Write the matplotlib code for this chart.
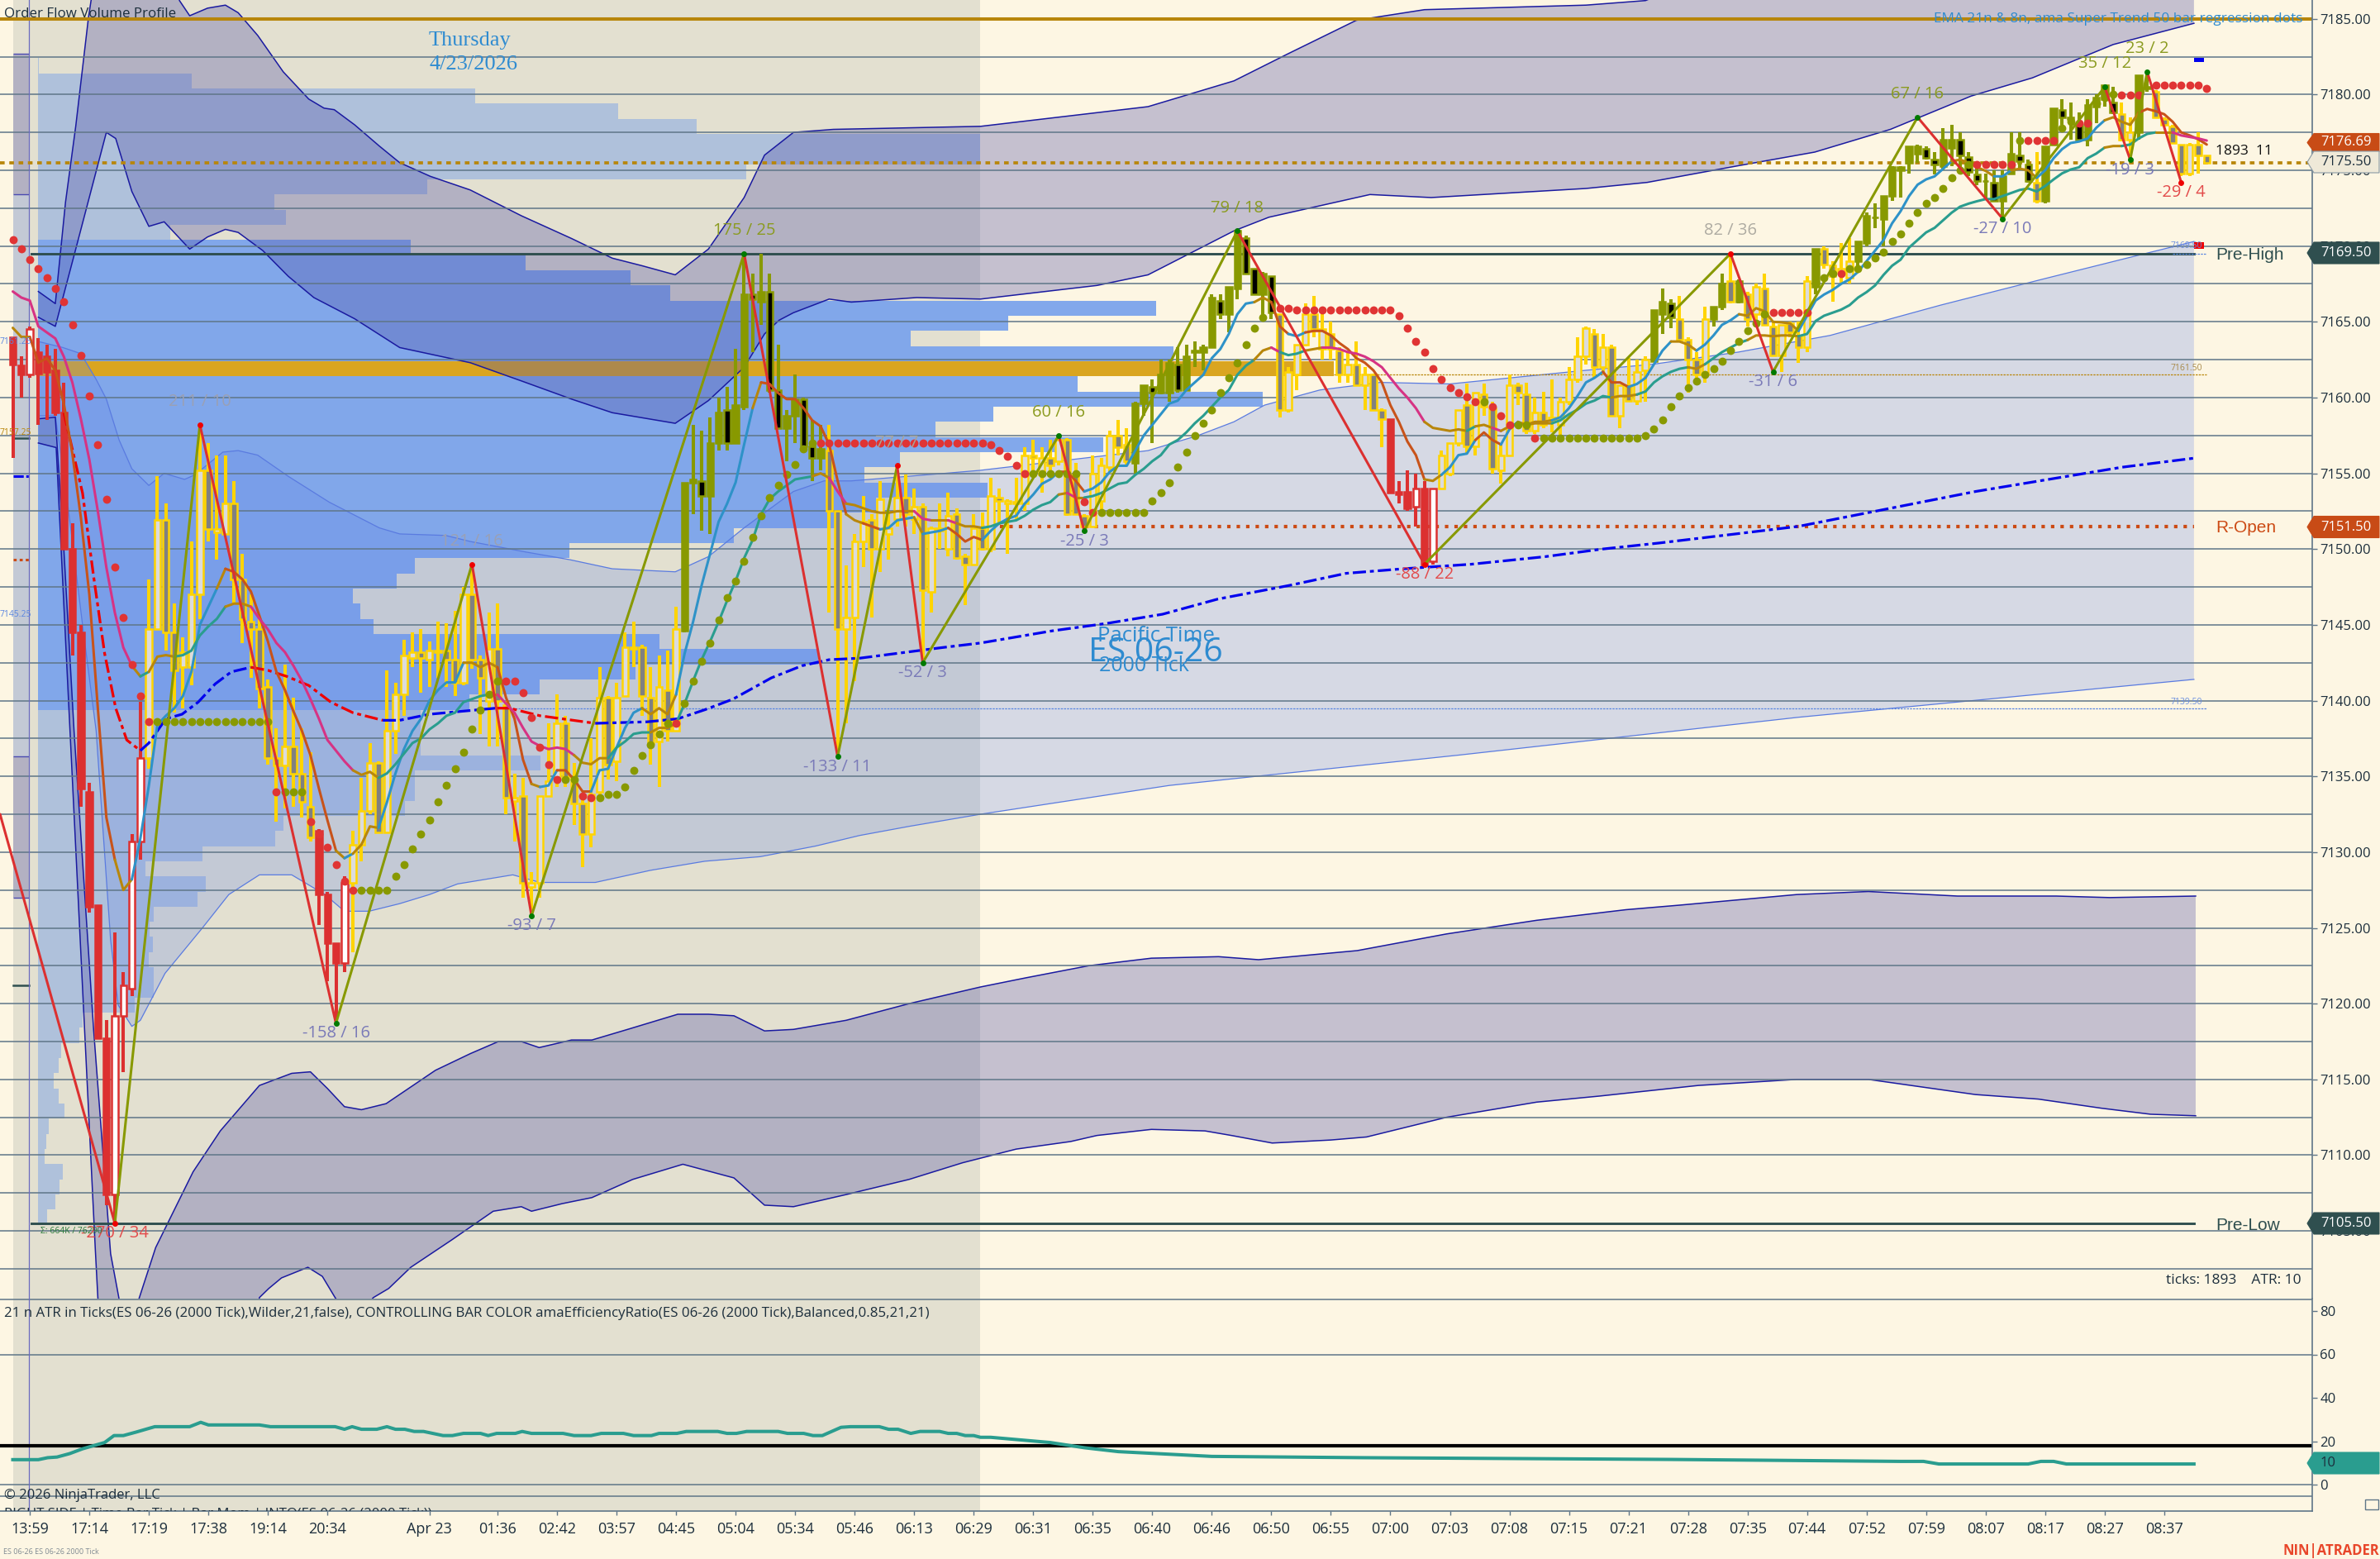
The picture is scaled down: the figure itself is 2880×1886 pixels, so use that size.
import numpy as np
import matplotlib
matplotlib.use("Agg")
import matplotlib.pyplot as plt
from matplotlib.patches import Polygon, Rectangle

# chart colours
BG = "#fdf6e3"
SHADE = "#e3e0d0"
GRID = "#5f7688"
SLATE = "#2f4f4f"
GOLD = "#b8860b"
TXTBLUE = "#2e8bd0"
DARK = "#1c2e3c"
FONT = "Open Sans"

# ------ candles ------
kinds = ("RRWRRRRRRRRRWWWWYYGGYYYGYYGGGGGGYGGGRRRWYYYGYYYYGY"
         "YGGYGGYGGYGYYYYGGGYYGYYYGGYGYOOKOOKOOKOKKOOKKOGGYY"
         "YGYYYGYGYGYGGYGYGYYYGYGYGGGYYYGGOOKOOKOOOOKOOKKOKG"
         "YYYGYGGYGYGGRRRWRWYYYGYGGYYGGYGYYYYYGYGYGYYOOKGGGY"
         "OOGOGYGGYGGYOGGYYOOKOOOOOKKOOKKKOKOOKKGOOKKKOOOKGYOKGGGGYGG")

opens = [7164.0, 7162.1, 7161.5, 7163.0, 7162.7, 7161.8, 7159.0, 7150.0, 7144.5, 7134.0,
         7126.5, 7117.7, 7107.4, 7119.2, 7121.0, 7130.7, 7136.2, 7144.7, 7151.9, 7144.5,
         7142.2, 7142.2, 7147.0, 7155.2, 7151.3, 7151.0, 7153.0, 7148.0, 7145.2, 7144.7,
         7140.9, 7136.2, 7135.7, 7137.0, 7135.2, 7133.0, 7131.4, 7127.2, 7124.0, 7122.7,
         7128.0, 7130.5, 7132.7, 7135.9, 7131.3, 7138.0, 7140.4, 7142.8, 7143.2, 7142.7,
         7143.3, 7143.3, 7142.7, 7141.2, 7147.0, 7142.7, 7140.0, 7143.4, 7139.7, 7133.6,
         7133.7, 7127.7, 7128.0, 7133.7, 7134.9, 7138.5, 7134.9, 7133.2, 7131.2, 7134.0,
         7140.2, 7136.0, 7140.3, 7143.5, 7143.5, 7140.2, 7137.3, 7140.7, 7138.0, 7144.6,
         7154.4, 7154.5, 7153.5, 7157.0, 7159.2, 7157.0, 7159.4, 7166.8, 7166.3, 7167.0,
         7160.5, 7158.0, 7158.8, 7159.9, 7156.8, 7156.0, 7156.5, 7152.5, 7144.7, 7145.5,
         7150.5, 7151.9, 7150.0, 7151.0, 7152.0, 7153.4, 7152.0, 7152.8, 7147.2, 7151.4,
         7150.0, 7152.3, 7149.5, 7149.0, 7151.4, 7150.0, 7153.4, 7153.2, 7153.1, 7153.0,
         7156.2, 7154.9, 7156.0, 7155.8, 7157.2, 7154.9, 7152.2, 7151.5, 7153.2, 7155.4,
         7157.5, 7156.9, 7155.7, 7159.6, 7160.7, 7160.3, 7160.3, 7162.2, 7160.5, 7163.0,
         7163.0, 7163.3, 7166.4, 7165.5, 7167.2, 7170.5, 7168.5, 7166.8, 7168.0, 7165.5,
         7159.2, 7161.5, 7163.5, 7165.5, 7163.2, 7164.2, 7163.1, 7161.5, 7162.2, 7160.8,
         7161.5, 7159.2, 7158.6, 7153.8, 7153.8, 7152.8, 7154.0, 7149.2, 7154.0, 7155.0,
         7157.0, 7159.5, 7156.8, 7160.2, 7159.3, 7155.2, 7156.2, 7160.8, 7160.2, 7157.8,
         7159.0, 7158.5, 7158.2, 7159.7, 7161.2, 7162.7, 7164.2, 7162.0, 7163.3, 7158.8,
         7160.8, 7159.8, 7161.8, 7162.4, 7165.5, 7166.2, 7165.2, 7163.8, 7162.5, 7161.5,
         7165.2, 7166.0, 7167.7, 7166.3, 7166.8, 7165.5, 7167.2, 7164.7, 7162.8, 7164.9,
         7164.1, 7163.3, 7167.3, 7169.8, 7168.7, 7168.3, 7167.9, 7169.0, 7170.2, 7171.9,
         7171.8, 7173.3, 7175.0, 7175.5, 7176.1, 7176.4, 7175.7, 7175.3, 7176.5, 7177.0,
         7175.9, 7174.7, 7174.3, 7174.2, 7173.0, 7174.8, 7176.0, 7175.4, 7174.2, 7173.0,
         7176.7, 7179.0, 7178.5, 7178.0, 7177.0, 7179.2, 7179.7, 7179.5, 7178.7, 7177.0,
         7177.5, 7180.5, 7180.2, 7178.4, 7177.9, 7176.7, 7174.8, 7176.7, 7176.0]
highs = [7164.0, 7162.7, 7164.7, 7163.9, 7163.5, 7163.2, 7161.0, 7151.7, 7145.0, 7134.6,
         7126.5, 7118.9, 7124.7, 7122.1, 7131.2, 7139.9, 7148.0, 7154.8, 7153.0, 7146.4,
         7144.2, 7150.5, 7158.2, 7157.0, 7156.2, 7156.2, 7154.5, 7149.7, 7147.0, 7145.4,
         7141.4, 7138.2, 7142.4, 7140.2, 7138.2, 7136.6, 7131.5, 7127.4, 7124.0, 7128.4,
         7131.4, 7134.9, 7137.2, 7136.0, 7142.0, 7141.2, 7144.0, 7144.5, 7144.7, 7143.9,
         7145.2, 7145.1, 7145.9, 7147.5, 7149.0, 7143.0, 7145.8, 7146.4, 7140.0, 7135.2,
         7134.9, 7128.7, 7133.7, 7138.5, 7140.4, 7139.0, 7135.9, 7133.8, 7137.5, 7142.2,
         7140.3, 7141.2, 7144.5, 7145.2, 7143.7, 7142.2, 7143.0, 7143.3, 7146.2, 7154.4,
         7158.2, 7157.8, 7158.7, 7160.0, 7160.7, 7163.2, 7169.5, 7168.2, 7169.5, 7168.2,
         7163.5, 7159.2, 7161.5, 7160.0, 7158.5, 7158.2, 7158.2, 7152.5, 7148.9, 7151.0,
         7153.5, 7152.3, 7154.5, 7152.5, 7155.0, 7154.9, 7154.0, 7153.0, 7151.5, 7153.0,
         7153.7, 7152.7, 7149.7, 7152.3, 7152.4, 7154.7, 7154.0, 7153.3, 7154.7, 7156.7,
         7157.2, 7156.7, 7157.2, 7157.5, 7157.3, 7155.7, 7152.3, 7156.2, 7156.0, 7157.8,
         7158.5, 7158.0, 7159.7, 7160.8, 7161.2, 7162.5, 7162.5, 7163.3, 7163.5, 7163.7,
         7163.5, 7166.8, 7166.8, 7167.3, 7171.0, 7170.7, 7168.5, 7168.3, 7168.0, 7165.5,
         7162.0, 7163.5, 7166.2, 7166.7, 7165.6, 7165.0, 7163.3, 7163.0, 7163.7, 7162.0,
         7161.6, 7159.3, 7158.6, 7154.5, 7155.2, 7155.0, 7154.5, 7154.0, 7156.5, 7157.0,
         7159.2, 7160.9, 7160.3, 7160.9, 7159.7, 7157.0, 7161.5, 7161.0, 7161.0, 7160.0,
         7160.4, 7161.2, 7160.0, 7162.0, 7164.0, 7164.7, 7164.5, 7164.2, 7163.5, 7160.8,
         7162.6, 7162.5, 7162.7, 7165.8, 7167.2, 7166.5, 7166.7, 7164.0, 7163.0, 7166.0,
         7166.0, 7168.2, 7169.5, 7167.8, 7167.0, 7167.5, 7168.2, 7165.0, 7164.8, 7165.0,
         7165.0, 7168.0, 7169.8, 7170.0, 7169.0, 7170.2, 7170.5, 7170.3, 7172.2, 7172.8,
         7173.3, 7175.3, 7175.3, 7176.6, 7176.7, 7176.6, 7176.2, 7177.8, 7178.0, 7177.5,
         7176.2, 7175.5, 7174.8, 7175.0, 7175.0, 7177.5, 7177.5, 7175.7, 7176.2, 7176.6,
         7179.1, 7179.7, 7179.5, 7178.8, 7179.7, 7180.0, 7180.6, 7180.5, 7179.5, 7178.5,
         7181.3, 7181.6, 7180.3, 7178.5, 7178.0, 7176.7, 7176.8, 7177.5, 7176.0]
lows = [7156.0, 7160.0, 7161.3, 7158.2, 7158.5, 7158.8, 7150.0, 7143.0, 7133.0, 7126.0,
        7117.7, 7106.7, 7105.5, 7115.5, 7120.5, 7129.5, 7135.5, 7144.7, 7143.3, 7139.2,
        7139.5, 7141.0, 7145.4, 7150.5, 7149.3, 7151.0, 7146.4, 7143.8, 7141.5, 7139.5,
        7135.8, 7132.0, 7132.9, 7133.0, 7132.3, 7130.7, 7125.2, 7121.5, 7118.7, 7122.1,
        7123.4, 7129.4, 7132.5, 7131.3, 7131.3, 7136.5, 7139.0, 7142.2, 7140.5, 7140.9,
        7141.5, 7140.9, 7140.3, 7141.0, 7142.1, 7137.8, 7137.0, 7137.0, 7132.5, 7130.7,
        7127.0, 7125.8, 7127.0, 7133.7, 7134.3, 7134.3, 7131.8, 7129.0, 7130.3, 7133.8,
        7134.8, 7134.7, 7140.3, 7142.2, 7139.0, 7135.8, 7134.3, 7137.3, 7138.0, 7144.5,
        7152.3, 7151.2, 7151.0, 7156.5, 7156.5, 7157.0, 7159.2, 7163.0, 7164.8, 7160.3,
        7157.9, 7155.8, 7157.0, 7156.5, 7154.5, 7155.2, 7145.8, 7136.5, 7138.5, 7141.3,
        7148.8, 7145.5, 7148.5, 7149.3, 7151.5, 7151.5, 7151.0, 7142.6, 7145.8, 7150.0,
        7149.5, 7149.3, 7146.3, 7148.9, 7149.9, 7149.8, 7151.6, 7149.7, 7152.0, 7152.5,
        7154.9, 7153.7, 7154.9, 7155.5, 7152.2, 7152.3, 7151.3, 7151.5, 7152.5, 7155.0,
        7156.2, 7155.6, 7155.0, 7158.8, 7157.0, 7160.2, 7159.7, 7160.3, 7160.5, 7162.0,
        7161.8, 7163.3, 7165.2, 7164.3, 7166.5, 7168.2, 7166.8, 7165.4, 7165.2, 7158.7,
        7159.0, 7160.5, 7163.4, 7164.0, 7162.5, 7162.5, 7161.0, 7161.0, 7160.8, 7159.2,
        7159.2, 7156.7, 7153.7, 7153.0, 7152.5, 7151.5, 7148.8, 7149.0, 7154.0, 7154.8,
        7156.8, 7156.3, 7156.2, 7158.8, 7155.0, 7154.3, 7156.2, 7159.5, 7157.6, 7157.6,
        7158.0, 7157.7, 7157.5, 7159.5, 7161.0, 7162.2, 7161.3, 7161.5, 7158.8, 7158.0,
        7159.8, 7159.5, 7159.7, 7162.4, 7164.2, 7164.6, 7163.7, 7160.3, 7161.0, 7161.0,
        7164.7, 7165.8, 7166.2, 7166.2, 7164.7, 7165.0, 7164.8, 7162.7, 7161.7, 7164.0,
        7162.3, 7163.0, 7166.8, 7168.5, 7166.3, 7167.6, 7167.5, 7168.4, 7170.0, 7171.2,
        7170.0, 7173.0, 7173.2, 7174.8, 7175.5, 7175.7, 7174.7, 7175.0, 7175.3, 7175.0,
        7174.6, 7174.0, 7173.1, 7172.9, 7171.9, 7174.8, 7175.0, 7174.2, 7172.8, 7172.8,
        7176.7, 7178.0, 7177.0, 7176.9, 7176.6, 7178.1, 7179.2, 7178.7, 7176.9, 7175.8,
        7177.0, 7180.2, 7178.5, 7177.9, 7176.8, 7174.6, 7174.6, 7174.8, 7175.5]
closes = [7162.2, 7161.5, 7164.5, 7161.6, 7161.7, 7159.0, 7150.0, 7144.5, 7134.2, 7126.4,
          7117.7, 7107.4, 7119.2, 7121.2, 7130.7, 7136.2, 7144.7, 7151.9, 7144.5, 7142.0,
          7143.2, 7147.0, 7155.2, 7151.3, 7151.1, 7153.0, 7148.0, 7145.4, 7144.7, 7140.8,
          7136.2, 7135.7, 7137.0, 7135.2, 7133.3, 7131.0, 7127.2, 7124.0, 7122.7, 7128.0,
          7130.5, 7132.7, 7135.9, 7131.3, 7138.0, 7140.4, 7143.0, 7143.2, 7142.8, 7143.3,
          7143.2, 7142.7, 7141.2, 7147.0, 7142.7, 7141.5, 7143.4, 7140.0, 7133.6, 7133.4,
          7128.0, 7128.0, 7133.7, 7134.7, 7138.5, 7134.9, 7133.2, 7131.2, 7133.8, 7140.2,
          7135.8, 7140.2, 7143.5, 7143.4, 7140.3, 7137.2, 7140.9, 7138.0, 7144.7, 7154.4,
          7154.6, 7153.5, 7157.0, 7159.0, 7157.0, 7159.5, 7166.8, 7166.5, 7167.0, 7160.5,
          7158.0, 7158.8, 7159.9, 7156.8, 7156.0, 7156.6, 7152.5, 7144.7, 7145.5, 7150.5,
          7151.8, 7150.0, 7153.3, 7151.4, 7153.4, 7152.3, 7152.8, 7147.3, 7151.4, 7151.2,
          7152.2, 7149.4, 7149.0, 7151.4, 7150.0, 7153.5, 7153.2, 7153.0, 7153.0, 7156.2,
          7156.0, 7156.0, 7155.5, 7157.2, 7152.3, 7152.3, 7151.5, 7155.0, 7155.5, 7157.5,
          7156.7, 7155.8, 7159.6, 7160.8, 7160.3, 7161.5, 7162.3, 7160.5, 7162.7, 7163.1,
          7163.3, 7166.6, 7165.5, 7167.3, 7171.0, 7168.2, 7166.8, 7168.2, 7165.6, 7159.2,
          7161.7, 7163.5, 7165.5, 7164.5, 7164.5, 7163.2, 7161.5, 7162.2, 7160.8, 7161.5,
          7159.2, 7158.6, 7153.7, 7153.6, 7152.7, 7154.0, 7148.9, 7154.0, 7156.2, 7157.0,
          7159.2, 7156.8, 7160.3, 7159.4, 7155.3, 7156.2, 7160.8, 7160.3, 7157.8, 7159.0,
          7158.2, 7158.7, 7159.7, 7161.2, 7162.7, 7164.6, 7162.0, 7163.3, 7158.8, 7160.8,
          7159.8, 7161.7, 7162.5, 7165.8, 7166.3, 7165.3, 7163.8, 7162.5, 7161.5, 7165.2,
          7166.0, 7167.5, 7166.3, 7167.7, 7165.2, 7167.3, 7164.8, 7162.8, 7164.8, 7164.3,
          7163.3, 7167.7, 7169.8, 7168.8, 7168.0, 7168.5, 7169.0, 7170.3, 7172.0, 7171.9,
          7173.3, 7175.2, 7175.2, 7176.6, 7176.6, 7175.8, 7175.4, 7177.0, 7177.0, 7176.0,
          7174.9, 7174.3, 7174.3, 7173.0, 7174.6, 7176.1, 7175.6, 7174.3, 7173.0, 7176.6,
          7179.1, 7178.5, 7178.4, 7177.0, 7179.3, 7179.8, 7180.6, 7178.8, 7177.0, 7177.5,
          7181.3, 7180.4, 7178.5, 7178.0, 7176.8, 7174.8, 7176.7, 7176.0, 7175.5]

# ------ moving averages, one value per bar ------
fast_line = [7164.6, 7164.0, 7164.0, 7162.3, 7162.6, 7161.8, 7159.6, 7156.3, 7152.1, 7147.0,
             7139.5, 7132.3, 7129.5, 7127.5, 7128.2, 7130.9, 7134.4, 7138.4, 7139.0, 7139.5,
             7140.3, 7141.9, 7145.0, 7146.2, 7147.4, 7148.7, 7148.5, 7148.0, 7147.2, 7145.6,
             7143.9, 7141.9, 7140.7, 7139.3, 7138.0, 7136.4, 7134.2, 7132.1, 7130.1, 7129.6,
             7129.9, 7130.5, 7131.7, 7131.6, 7133.3, 7135.2, 7136.8, 7138.0, 7138.8, 7140.0,
             7140.7, 7141.2, 7141.2, 7142.5, 7142.5, 7142.2, 7142.5, 7142.2, 7140.2, 7138.8,
             7136.1, 7134.5, 7134.3, 7134.4, 7135.4, 7135.4, 7134.8, 7134.0, 7134.0, 7135.4,
             7135.5, 7136.9, 7138.2, 7139.2, 7139.5, 7139.1, 7139.5, 7139.1, 7140.4, 7143.1,
             7145.2, 7147.6, 7149.7, 7151.8, 7153.0, 7154.4, 7156.9, 7159.3, 7161.0, 7160.9,
             7160.3, 7159.9, 7159.9, 7159.3, 7158.5, 7158.1, 7156.9, 7154.5, 7152.3, 7151.9,
             7151.7, 7151.5, 7151.3, 7151.4, 7151.9, 7152.0, 7152.1, 7151.0, 7151.1, 7151.2,
             7151.4, 7151.0, 7150.5, 7150.8, 7150.6, 7151.2, 7151.7, 7152.0, 7152.2, 7153.0,
             7153.6, 7154.3, 7154.6, 7155.1, 7155.1, 7154.5, 7153.8, 7154.0, 7154.4, 7155.1,
             7155.5, 7155.5, 7156.5, 7157.5, 7158.2, 7158.9, 7159.6, 7159.8, 7160.5, 7161.0,
             7161.5, 7162.6, 7163.2, 7164.2, 7165.5, 7166.2, 7166.3, 7166.6, 7166.3, 7164.7,
             7164.2, 7164.05, 7164.3, 7164.4, 7164.4, 7164.1, 7163.6, 7163.2, 7162.6, 7162.3,
             7161.8, 7161.0, 7159.5, 7158.4, 7157.1, 7156.2, 7154.6, 7154.5, 7154.9, 7155.4,
             7156.2, 7156.3, 7157.2, 7157.7, 7157.2, 7156.9, 7157.9, 7158.4, 7158.2, 7158.4,
             7158.4, 7158.5, 7158.7, 7159.3, 7160.1, 7161.0, 7161.3, 7161.7, 7161.0, 7161.0,
             7160.7, 7160.9, 7161.3, 7162.2, 7163.1, 7163.7, 7163.7, 7163.5, 7163.1, 7163.5,
             7164.1, 7164.8, 7165.1, 7165.5, 7165.4, 7165.9, 7165.7, 7165.0, 7164.96, 7164.9,
             7164.4, 7165.4, 7166.4, 7166.8, 7167.1, 7167.5, 7167.8, 7168.3, 7169.0, 7169.7,
             7170.4, 7171.5, 7172.3, 7173.3, 7174.05, 7174.4, 7174.6, 7175.1, 7175.6, 7175.7,
             7175.5, 7175.2, 7174.96, 7174.6, 7174.6, 7175.0, 7175.1, 7175.0, 7174.5, 7175.0,
             7175.8, 7176.4, 7176.8, 7176.9, 7177.1, 7177.8, 7178.3, 7178.5, 7178.2, 7178.0,
             7178.8, 7179.05, 7178.9, 7178.7, 7178.2, 7177.5, 7177.3, 7177.05, 7176.7]
slow_line = [7167.0, 7166.6, 7166.4, 7164.7, 7164.3, 7163.9, 7162.7, 7161.0, 7158.6, 7155.9,
             7152.5, 7148.8, 7145.8, 7143.5, 7142.3, 7141.6, 7141.9, 7142.9, 7143.0, 7142.9,
             7143.0, 7143.3, 7144.3, 7144.9, 7145.4, 7146.2, 7146.4, 7146.4, 7146.2, 7145.4,
             7144.7, 7143.8, 7143.2, 7142.3, 7141.3, 7140.1, 7138.8, 7137.4, 7136.7, 7136.0,
             7135.4, 7135.1, 7135.3, 7134.9, 7135.2, 7135.8, 7136.5, 7137.2, 7137.5, 7138.1,
             7138.5, 7139.0, 7139.2, 7139.9, 7140.1, 7140.3, 7140.4, 7140.4, 7139.8, 7139.2,
             7138.2, 7137.3, 7137.0, 7136.8, 7136.9, 7136.8, 7136.4, 7135.9, 7135.8, 7136.2,
             7136.2, 7136.9, 7137.3, 7137.8, 7137.9, 7137.9, 7138.2, 7138.2, 7138.5, 7139.8,
             7141.3, 7142.7, 7143.9, 7145.2, 7146.6, 7147.9, 7149.4, 7150.6, 7152.3, 7153.3,
             7153.8, 7154.2, 7154.6, 7154.7, 7154.8, 7155.0, 7154.7, 7153.8, 7153.0, 7152.9,
             7152.7, 7152.5, 7152.4, 7152.4, 7152.5, 7152.5, 7152.5, 7152.0, 7151.9, 7151.9,
             7151.9, 7151.7, 7151.5, 7151.5, 7151.4, 7151.5, 7151.7, 7151.8, 7151.9, 7152.2,
             7152.6, 7152.9, 7153.1, 7153.6, 7153.7, 7153.4, 7153.4, 7153.5, 7153.7, 7154.0,
             7154.3, 7154.4, 7154.9, 7155.3, 7155.8, 7156.2, 7156.9, 7157.2, 7157.7, 7158.3,
             7158.8, 7159.4, 7160.0, 7160.5, 7161.5, 7162.1, 7162.5, 7163.1, 7163.3, 7163.0,
             7162.8, 7162.9, 7163.1, 7163.2, 7163.3, 7163.3, 7163.2, 7163.0, 7162.9, 7162.7,
             7162.4, 7162.0, 7161.3, 7160.6, 7160.0, 7159.3, 7158.4, 7158.0, 7157.9, 7157.8,
             7157.9, 7157.8, 7158.1, 7158.2, 7158.0, 7157.8, 7158.1, 7158.3, 7158.2, 7158.3,
             7158.3, 7158.3, 7158.5, 7158.9, 7159.2, 7159.6, 7159.8, 7160.1, 7160.0, 7160.1,
             7160.1, 7160.2, 7160.4, 7161.0, 7161.4, 7161.7, 7161.9, 7162.0, 7161.9, 7162.2,
             7162.6, 7163.0, 7163.3, 7163.6, 7163.8, 7164.1, 7164.1, 7164.05, 7164.1, 7164.1,
             7164.05, 7164.2, 7165.05, 7165.4, 7165.6, 7165.8, 7166.1, 7166.6, 7166.96, 7167.4,
             7168.1, 7168.7, 7169.1, 7169.9, 7170.4, 7170.9, 7171.2, 7171.7, 7172.2, 7172.6,
             7172.8, 7172.96, 7173.1, 7173.1, 7173.3, 7173.5, 7173.7, 7173.8, 7173.6, 7173.96,
             7174.4, 7174.8, 7175.05, 7175.2, 7175.8, 7176.1, 7176.5, 7176.6, 7176.6, 7176.7,
             7177.1, 7177.4, 7177.5, 7177.5, 7177.5, 7177.3, 7177.2, 7177.1, 7176.96]
# colour changes of the lines: (first bar, colour)
fast_runs = [(0, "a"), (2, "o"), (12, "a"), (14, "b"), (24, "a"), (25, "o"), (38, "a"), (39, "b"), (40, "a"),
             (43, "b"), (53, "a"), (57, "o"), (61, "a"), (62, "b"), (64, "o"), (68, "b"), (74, "a"), (78, "b"),
             (87, "a"), (88, "o"), (98, "a"), (100, "o"), (102, "b"), (106, "a"), (107, "b"), (110, "o"),
             (114, "b"), (123, "o"), (126, "b"), (146, "a"), (148, "o"), (150, "b"), (152, "o"), (166, "a"),
             (168, "b"), (172, "o"), (175, "b"), (177, "a"), (181, "b"), (187, "o"), (190, "b"), (195, "a"),
             (198, "b"), (203, "a"), (210, "b"), (228, "a"), (233, "b"), (235, "a"), (238, "b"), (246, "a"),
             (250, "o")]
slow_runs = [(0, "p"), (14, "a"), (15, "t"), (16, "a"), (19, "t"), (25, "a"), (28, "p"), (40, "a"), (43, "t"),
             (56, "a"), (57, "p"), (66, "a"), (70, "t"), (75, "a"), (78, "t"), (94, "a"), (96, "p"), (98, "a"),
             (106, "p"), (108, "a"), (110, "p"), (111, "a"), (114, "t"), (123, "a"), (124, "p"), (125, "a"),
             (126, "t"), (146, "a"), (148, "p"), (149, "t"), (152, "a"), (154, "p"), (166, "a"), (171, "t"),
             (172, "a"), (174, "p"), (175, "a"), (176, "t"), (177, "a"), (181, "t"), (188, "a"), (191, "t"),
             (197, "a"), (199, "t"), (204, "a"), (210, "t"), (246, "a"), (248, "t"), (252, "a"), (254, "p")]
line_colors = {"a": "#b8860b", "o": "#c8531a", "b": "#2e92c8", "t": "#2a9d8f", "p": "#d63384"}

# ------ super trend dots ------
dot_prices = [7170.4, 7169.8, 7169.1, 7168.5, 7167.9, 7167.2, 7166.3, 7164.8, 7162.8, 7160.1,
              7156.9, 7153.3, 7148.8, 7145.5, 7142.4, 7140.3, 7138.6] + [7138.6] * 14 + [
              7134.0, 7134.0, 7134.0, 7134.0, 7132.0, 7131.2, 7130.3, 7129.2, 7128.1, 7127.5,
              7127.5, 7127.5, 7127.5, 7127.5, 7128.4, 7129.2, 7130.2, 7131.2, 7132.1, 7133.3,
              7134.4, 7135.5, 7136.6, 7138.1, 7139.4, 7140.4, 7141.3, 7141.3, 7141.3, 7140.5,
              7138.9, 7136.9, 7135.8, 7134.8, 7134.8, 7134.8, 7133.7, 7133.6, 7133.6, 7133.8,
              7133.8, 7134.3, 7135.4, 7136.4, 7137.1, 7137.8, 7138.5, 7138.5, 7139.8, 7141.3,
              7142.6, 7143.8, 7145.3, 7146.8, 7147.9, 7149.2, 7150.8, 7152.2, 7153.4, 7154.2,
              7154.9, 7155.6, 7156.6, 7157.0] + [7157.0] * 20 + [
              7156.9, 7156.5, 7156.1, 7155.5, 7155.0] + [7155.0] * 6 + [7153.1, 7152.4] + [7152.4] * 6 + [
              7153.2, 7153.7, 7154.4, 7155.4, 7156.4, 7157.5, 7158.3, 7159.2, 7160.3, 7161.3,
              7162.3, 7163.5, 7164.6, 7165.3, np.nan, 7165.9, 7165.9] + [7165.8] * 12 + [
              7165.4, 7164.6, 7163.7, 7163.0, 7161.9, 7161.2, 7160.65, 7160.3, 7160.05, 7159.7,
              7159.7, 7159.4, 7158.8, 7158.2, 7158.2, 7158.2, 7157.3] + [7157.3] * 12 + [
              7157.5, 7157.9, 7158.5, 7159.4, 7160.1, 7160.65, 7161.1, 7161.5, 7161.9, 7162.4,
              7163.1, 7163.7, 7164.4, 7164.9, 7165.5] + [7165.6] * 5 + [
              7167.5, 7167.9, 7168.2, 7168.2, 7168.5, 7168.5, 7168.8, 7169.2, 7169.6, 7170.3,
              7170.8, 7171.5, 7172.2, 7172.8, 7173.2, 7173.8, 7174.5, 7175.0, 7175.4] + [7175.4] * 5 + [
              7176.96] * 5 + [7177.8, 7178.2, 7178.1, 7178.1, 7179.4, 7179.8, 7180.0, 7179.96, 7179.96, 7179.96,
              np.nan] + [7180.6] * 6 + [7180.4]
dot_runs = [(0, "r"), (17, "g"), (31, "r"), (32, "g"), (35, "r"), (41, "g"), (58, "r"), (65, "g"), (67, "r"),
            (69, "g"), (78, "r"), (79, "g"), (95, "r"), (120, "g"), (126, "r"), (128, "g"), (149, "r"),
            (173, "g"), (174, "r"), (177, "g"), (179, "r"), (180, "g"), (207, "r"), (212, "g"), (215, "r"),
            (216, "g"), (231, "r"), (236, "g"), (237, "r"), (241, "g"), (243, "r"), (245, "g"), (248, "r")]

# ------ swing zigzag ------
swing_bars = [-1.5, 12, 22, 38, 54, 61, 86, 97, 104, 107, 123, 126, 144, 166, 202, 207, 224, 234, 246, 249, 251, 255]
swing_prices = [7132.5, 7105.5, 7158.2, 7118.7, 7149.0, 7125.8, 7169.5, 7136.3, 7155.5, 7142.5, 7157.5, 7151.2,
                7171.0, 7149.0, 7169.5, 7161.7, 7178.5, 7171.8, 7180.5, 7175.7, 7181.5, 7174.2]
swing_labels = ["", "-270 / 34", "211 / 10", "-158 / 16", "121 / 16", "-93 / 7", "175 / 25", "-133 / 11", "77 / 7",
                "-52 / 3", "60 / 16", "-25 / 3", "79 / 18", "-88 / 22", "82 / 36", "-31 / 6", "67 / 16", "-27 / 10",
                "35 / 12", "-19 / 3", "23 / 2", "-29 / 4"]
swing_label_colors = ["", "#e34b4b", "#9aa0b4", "#7a7ab8", "#9aa0b4", "#7a7ab8", "#8b9b20", "#7a7ab8", "#a8a498",
                      "#7a7ab8", "#8b9b20", "#7a7ab8", "#8b9b20", "#e34b4b", "#aeaba2", "#7a7ab8", "#8b9b20",
                      "#7a7ab8", "#8b9b20", "#7a7ab8", "#8b9b20", "#e34b4b"]
swing_dot_colors = ["", "r", "r", "g", "r", "g", "g", "g", "r", "g", "g", "g", "g", "r", "r", "g", "g", "g", "g", "g",
                    "g", "r"]

# ------ regression bands, vertices ------
top_upper_x = [3, 5, 6.2, 7.4, 8.9, 9.2, 14, 19.6, 20.8, 22.9, 25, 26.5, 28.8, 31.8, 34.8, 36.6, 37.8, 40.2, 43.1,
               45.5, 49.1, 53.8, 59.8, 65.7, 70.5, 74, 77.9, 81.8, 86, 88.4, 91.8, 96.5, 113.8, 133.5, 143.6, 150,
               158, 166, 185, 192, 200, 256.5]
top_upper_y = [7167.0, 7166.2, 7172.9, 7177.9, 7185.1, 7186.2, 7198, 7186.2, 7185.2, 7185.7, 7185.9, 7185.4, 7183.9,
               7181.5, 7179.7, 7179.1, 7179, 7178, 7176.6, 7175.5, 7174.6, 7173.7, 7172, 7170.5, 7169.2, 7168.7,
               7168.1, 7169.8, 7173.2, 7176, 7177.5, 7177.7, 7177.9, 7179.2, 7180.9, 7182.7, 7184.9, 7185.6, 7185.9,
               7186.2, 7188, 7192]
top_lower_x = [3, 5, 7.4, 11, 12.1, 14, 16, 17.8, 20.8, 22.9, 25, 26.5, 29.4, 32.4, 35.4, 40.2, 45.5, 53.8, 59.8,
               65.7, 70.5, 77.9, 81.8, 86, 88.4, 90.1, 91.8, 96, 98.6, 106.3, 113.8, 127.5, 133.5, 143.6, 147.7,
               159.6, 166.8, 185, 192.2, 202.9, 211.9, 220.8, 230.3, 237.5, 247, 256.5]
top_lower_y = [7165.3, 7164.7, 7169.8, 7177.5, 7177.1, 7173.6, 7171.3, 7171.6, 7169.8, 7170.6, 7171.1, 7170.9, 7169.7,
               7168, 7166.6, 7165.2, 7163.3, 7162.3, 7161.1, 7159.9, 7159, 7158.3, 7159.8, 7162, 7164.2, 7165.1,
               7165.6, 7166.5, 7166.3, 7166.6, 7166.5, 7167.4, 7168.1, 7171, 7171.9, 7173.4, 7173.2, 7173.8, 7174.2,
               7175.3, 7176.2, 7177.7, 7179.9, 7181.1, 7183.3, 7184.7]
mid_upper_x = [3, 5.9, 8, 9.8, 11, 12.5, 14, 16, 17.8, 20.2, 21.4, 24.7, 26.5, 28.8, 32.4, 37.2, 43.1, 45.5, 50.9,
               53.8, 60.4, 65.5, 70.5, 77.9, 81.8, 86, 91.8, 95.4, 98.6, 109.6, 113.8, 133.5, 139.4, 143.6, 147.2,
               153.7, 160.8, 169, 185, 192.9, 202.9, 213.7, 226.7, 238.6, 249.3, 256.5]
mid_upper_y = [7163.7, 7163.3, 7162.9, 7161.2, 7159.9, 7157.2, 7155.3, 7154.2, 7155, 7154.6, 7154.9, 7156.4, 7156.5,
               7156.2, 7154.8, 7153.1, 7151.4, 7151, 7150.9, 7150.5, 7149.8, 7149.3, 7148.7, 7148.5, 7149.5, 7151.4,
               7153.8, 7154.5, 7154.5, 7155, 7155.2, 7156.5, 7157.5, 7158.4, 7159.5, 7160.5, 7161, 7160.9, 7161.8,
               7162.2, 7163, 7164.1, 7166.1, 7167.8, 7169.3, 7170.3]
mid_lower_x = [3, 5, 6.3, 8.2, 9.8, 11.5, 12.4, 14, 15, 17.9, 22.3, 25.4, 29, 32.8, 36.7, 39, 41.9, 45.5, 49, 52.3,
               58.8, 62, 68.5, 75, 81.4, 87.9, 94.4, 99.6, 105.4, 113.8, 136, 170, 210, 256.5]
mid_lower_y = [7158.8, 7158.8, 7153.7, 7145, 7138, 7124.2, 7119.9, 7118.5, 7118.9, 7122, 7125, 7127.2, 7128.5, 7128.5,
               7127.2, 7126.1, 7126.1, 7126.6, 7127.2, 7127.9, 7128.5, 7128, 7128, 7128.8, 7129.4, 7129.7, 7130.4,
               7131.1, 7131.7, 7132.5, 7134.4, 7136.4, 7138.9, 7141.4]
low_upper_x = [3, 5, 6, 7.2, 9.5, 11.5, 12.8, 13.5, 14.3, 16.8, 21.2, 24.4, 29, 32.8, 35, 37, 39, 41, 43.9, 49.7,
               53.8, 57.1, 59.8, 61.9, 65.7, 68.1, 72.3, 78.2, 81.8, 84.8, 88.4, 91.8, 98, 105.4, 113.8, 119.1,
               126.5, 133.9, 141.8, 146.5, 158.1, 168.6, 179.2, 189.7, 196, 209.8, 218.2, 228.7, 240.3, 246.6, 256.7]
low_upper_y = [7158.6, 7158.7, 7150, 7138, 7118.3, 7103.5, 7099.6, 7096, 7099.6, 7103.9, 7108.9, 7111.6, 7114.6, 7115.4,
               7115.5, 7114.4, 7113.2, 7113, 7113.4, 7115.6, 7116.7, 7117.5, 7117.5, 7117.1, 7117.6, 7117.6, 7118.3,
               7119.3, 7119.3, 7119.2, 7118.2, 7118.3, 7118.9, 7120, 7121.1, 7121.7, 7122.5, 7123, 7123.1, 7122.9,
               7123.5, 7124.6, 7125.5, 7126.2, 7126.5, 7127.2, 7127.4, 7127.1, 7127.1, 7127, 7127.1]
low_lower_x = [3, 5.1, 9.7, 10, 12, 26, 29, 30.1, 31.6, 34.7, 36.4, 37.9, 40, 42.4, 44.2, 46.8, 51.6, 56.5, 59.8, 61,
               64.6, 68.1, 72.9, 78.8, 84.8, 88.4, 91.8, 98, 105.4, 111.7, 118, 124.4, 127.5, 133.9, 140.2, 143.3,
               148.1, 155, 159.2, 168.6, 179.2, 186.6, 198.2, 209.8, 218.2, 224.5, 230.8, 238.2, 245.6, 251.4, 256.7]
low_lower_y = [7157, 7156.7, 7103.8, 7100.6, 7090, 7090, 7100.6, 7101.2, 7101.9, 7102.6, 7102, 7100.6, 7099, 7100.6,
               7101.2, 7102.6, 7104.4, 7106.3, 7106.6, 7106.3, 7106.8, 7107.2, 7108.4, 7109.4, 7108.5, 7106.7, 7106.6,
               7107.4, 7108.4, 7109.5, 7110.4, 7110.9, 7111.3, 7111.7, 7111.6, 7111.3, 7110.8, 7111, 7111.2, 7112.5,
               7113.5, 7113.9, 7114.6, 7115, 7115, 7114.5, 7114, 7113.7, 7113.1, 7112.7, 7112.6]

# regression mid line, red where it falls
reg_x = [6, 8.2, 9.5, 10.8, 12.1, 13.4, 15, 16, 18, 19.9, 21.8, 23.8, 25.7, 28, 30, 32.2, 34.8, 37.4, 40, 43.5, 45.5,
         49, 56.8, 58.4, 62, 68.5, 74.6, 78.2, 81.4, 84.7, 89.2, 92.8, 96, 99.6, 109.3, 113.8, 122.2, 128.7, 135.2,
         141.7, 150.1, 156.8, 163.5, 171.5, 180.2, 186.9, 193.6, 202.6, 210, 230.8, 248, 256.5]
reg_y = [7159, 7153.7, 7148.2, 7143.1, 7139.5, 7137.4, 7136.7, 7137.2, 7138.8, 7139.1, 7139.9, 7141.1, 7141.9, 7142.2,
         7142, 7141.6, 7141, 7139.9, 7139.2, 7138.7, 7138.7, 7139.1, 7139.5, 7139.5, 7139, 7138.5, 7138.6, 7138.8,
         7139.4, 7140.1, 7141.5, 7142.3, 7142.7, 7142.8, 7143.5, 7143.8, 7144.6, 7145.1, 7145.7, 7146.7, 7147.6,
         7148.4, 7148.7, 7149, 7149.5, 7150, 7150.4, 7151, 7151.5, 7153.8, 7155.4, 7156]
reg_runs = [(0, "#ee0000"), (6, "#0000ee"), (13, "#ee0000"), (19, "#0000ee"), (22, "#ee0000"), (25, "#0000ee")]

# ------ order flow volume profile (row top price and volume) ------
profile_tops = [7182.4 - k for k in range(77)]
profile_volume = [47, 232, 575, 748, 843, 1186, 1186, 903, 517, 332, 346, 206,
                  497, 636, 763, 811, 1399, 1220, 1102, 1420, 1614, 1304, 1528, 1202, 1132, 1335, 1089, 1046, 1195,
                  1060, 1018, 888, 689, 502, 480, 427, 436, 452, 798, 990, 769, 653, 568,
                  509, 509, 509, 654, 502, 502, 490, 343, 333, 245, 176, 249, 239, 186, 181, 185, 180, 186, 186, 163,
                  100, 96, 74, 71, 65, 71, 78, 59, 56, 54, 76, 72, 67, 57]

# ------ ATR panel ------
atr_x = [0, 3, 4.1, 5.2, 6.7, 8.2, 10.8, 11.9, 13, 14.5, 16.7, 20.8, 22.1, 23, 29, 30.3, 37.9, 39, 39.9, 41, 42.8, 44,
         45, 46.1, 47.2, 48.3, 50.6, 51.7, 53, 55, 55.9, 56.9, 59.1, 59.9, 61, 64.7, 66, 68, 69.2, 71.8, 73, 75.1, 76,
         78.1, 79.2, 82.9, 84, 85.1, 86.3, 90, 91.1, 93, 94.1, 95.2, 97.4, 98.5, 101.9, 103, 104.1, 105.6, 106.7, 109,
         110, 111, 112, 113, 113.8, 115, 122, 126, 130, 141, 159, 177, 194.8, 222, 224.7, 226.5, 237, 238.5, 240,
         241.5, 256.5]
atr_y = [11.5, 11.5, 12.4, 12.7, 14.3, 16.5, 19.4, 22.6, 22.6, 24.2, 26.7, 26.7, 28.7, 27.5, 27.5, 26.7, 26.7, 25.5,
         26.7, 25.5, 25.5, 26.7, 25.5, 25.5, 24.5, 24.5, 22.6, 22.6, 23.6, 23.6, 22.6, 23.6, 23.6, 24.5, 23.6, 23.6,
         22.6, 22.6, 23.6, 23.6, 22.6, 22.6, 23.6, 23.6, 24.5, 24.5, 23.6, 23.6, 24.5, 24.5, 23.6, 23.6, 22.6, 22.6,
         26.4, 26.7, 26.7, 25.5, 25.5, 23.6, 24.5, 24.5, 23.6, 23.6, 22.6, 22.6, 21.8, 21.8, 19.4, 17, 15.2, 13, 12.4,
         12, 11.6, 10.7, 10.7, 9.5, 9.5, 10.7, 10.7, 9.5, 9.5]
atr_level = 18

# ------ axis labels ------
tick_bars = [2, 9, 16, 23, 30, 37, 49, 57, 64, 71, 78, 85, 92, 99, 106, 113] + list(range(120, 254, 7))
tick_labels = ["13:59", "17:14", "17:19", "17:38", "19:14", "20:34", "Apr 23", "01:36", "02:42", "03:57", "04:45",
               "05:04", "05:34", "05:46", "06:13", "06:29", "06:31", "06:35", "06:40", "06:46", "06:50", "06:55",
               "07:00", "07:03", "07:08", "07:15", "07:21", "07:28", "07:35", "07:44", "07:52", "07:59", "08:07",
               "08:17", "08:27", "08:37"]
price_ticks = [7105, 7110, 7115, 7120, 7125, 7130, 7135, 7140, 7145, 7150, 7155, 7160, 7165, 7170, 7175, 7180, 7185]


# layout of the window in pixels
W, H = 2880, 1886
RIGHT = 2797.5
MAIN_BOTTOM = 1571
LOW_BOTTOM = 1828
SESSION_END = 113.75
END_BAR = 256.5


def bar_of(px):
    return (px - 15.5) / 10.29


def price_of(py):
    return 7185 - (py - 22.7) / 18.33


def atr_of(py):
    return (1796 - py) * 20 / 52.5


def run_colors(runs, n):
    out = [None] * n
    for k, (start, c) in enumerate(runs):
        end = runs[k + 1][0] if k + 1 < len(runs) else n
        for j in range(start, end):
            out[j] = c
    return out


def draw_runs(axis, xs, ys, runs, colors=None, **kw):
    for k, (start, c) in enumerate(runs):
        end = runs[k + 1][0] if k + 1 < len(runs) else len(xs) - 1
        axis.plot(xs[start:end + 1], ys[start:end + 1], color=colors[c] if colors else c, **kw)


plt.rcParams["font.family"] = [FONT, "DejaVu Sans"]
fig = plt.figure(figsize=(W / 100, H / 100), dpi=100, facecolor=BG)

# main price panel, with the profile on a twin x axis under it
ax = fig.add_axes([0, 1 - MAIN_BOTTOM / H, RIGHT / W, MAIN_BOTTOM / H])
ax_vp = ax.twiny()
ax_vp.set_zorder(1)
ax.set_zorder(2)
ax.patch.set_visible(False)
ax_vp.patch.set_facecolor(BG)
ax.set_xlim(bar_of(0), bar_of(RIGHT))
ax.set_ylim(price_of(MAIN_BOTTOM), price_of(0))
ax_vp.set_xlim(0, RIGHT)
ax_vp.tick_params(top=False, labeltop=False)

ax_vp.axvspan(16, 1186, color=SHADE, lw=0, zorder=0)
for top, vol in zip(profile_tops, profile_volume):
    if 7162.5 > top > 7162:
        color, alpha = "#daa520", 1
    elif 7139.5 < top < 7171:
        color, alpha = "#7da5ec", 0.96
    else:
        color, alpha = "#7ca3e6", 0.5
    ax_vp.barh(top - 1, vol - 46, left=46, height=1, align="edge", color=color, alpha=alpha, lw=0, zorder=1)

# left over bits of the earlier session
ax_vp.fill_between([16, 35], 7173.4, 7182.7, color="#5050a7", alpha=0.32, lw=0, zorder=2)
ax_vp.fill_between([16, 35], 7136.3, 7173.4, color="#6586e7", alpha=0.25, lw=0, zorder=2)
ax_vp.fill_between([16, 35], 7127.0, 7136.3, color="#5050a7", alpha=0.32, lw=0, zorder=2)
ax_vp.hlines([7182.7, 7173.4, 7136.3, 7127.0], 16, 35, color="#4a4ab0", lw=1, zorder=2)
ax_vp.plot([16, 35], [7154.8, 7154.8], color="#0000ee", lw=2.2, ls=(0, (4, 1, 1, 1)), zorder=2)
ax_vp.plot([16, 35], [7149.3, 7149.3], color="#cc4a14", lw=2.2, ls=(0, (1.2, 1.2)), zorder=2)
ax_vp.plot([16, 35], [7157.3, 7157.3], color=SLATE, lw=1.8, zorder=2)
ax_vp.plot([16, 35], [7121.2, 7121.2], color=SLATE, lw=1.8, zorder=2)

# bands
for ux, uy, lx, ly, col, a, edge, elw in [
    (top_upper_x, top_upper_y, top_lower_x, top_lower_y, "#5050a7", 0.32, "#1a1aa0", 1.1),
    (mid_upper_x, mid_upper_y, mid_lower_x, mid_lower_y, "#6586e7", 0.25, "#5a7be0", 0.9),
    (low_upper_x, low_upper_y, low_lower_x, low_lower_y, "#5050a7", 0.32, "#1a1aa0", 1.1),
]:
    ax.fill(list(ux) + list(lx)[::-1], list(uy) + list(ly)[::-1], color=col, alpha=a, lw=0, zorder=1)
    ax.plot(ux, uy, color=edge, lw=elw, zorder=1.2)
    ax.plot(lx, ly, color=edge, lw=elw, zorder=1.2)

# price grid every 2.5 points
for level in np.arange(7102.5, 7186, 2.5):
    ax.axhline(level, color=GRID, lw=1.1, zorder=1.5)
ax.axvline(1.9, color="#6a6ac0", lw=0.9, zorder=1.6)

# fixed levels
ax.axhline(7185, color=GOLD, lw=2.9, zorder=2)
ax.axhline(7175.5, color=GOLD, lw=2.7, ls=(0, (1.5, 1.5)), zorder=2)
ax.plot([2.2, END_BAR], [7169.5, 7169.5], color=SLATE, lw=2.1, zorder=2)
ax.plot([2.2, END_BAR], [7105.5, 7105.5], color=SLATE, lw=2.1, zorder=2)
ax.plot([113.8, END_BAR], [7151.5, 7151.5], color="#cc4a14", lw=3, ls=(0, (1, 1.75)), zorder=2)
ax.plot([155.3, 258], [7161.5, 7161.5], color=GOLD, lw=0.9, ls=(0, (2, 1)), zorder=2)
ax.plot([58, 258], [7139.5, 7139.5], color="#5a86e0", lw=0.9, ls=(0, (2, 1)), zorder=2)
ax.plot([254, 258], [7169.5, 7169.5], color="#5a86e0", lw=0.9, ls=(0, (2, 1)), zorder=2)

# candles
bars_x = np.arange(len(opens))
styles = {
    "R": ("#dc3030", "#dc3030", "#dc3030"),
    "W": ("#dc3030", "#ffffff", "#dc3030"),
    "Y": ("#ffd400", "#dcdcdc", "#ffd400"),
    "G": ("#ffd400", "#808080", "#ffd400"),
    "O": ("#889900", "#889900", "#889900"),
    "K": ("#889900", "#000000", "#889900"),
}
for k in styles:
    idx = [i for i, c in enumerate(kinds) if c == k]
    wick, face, edge = styles[k]
    ax.vlines(bars_x[idx], np.array(lows)[idx], np.array(highs)[idx], color=wick, lw=2.9, zorder=3)
    b = np.minimum(np.array(opens)[idx], np.array(closes)[idx])
    t = np.maximum(np.array(opens)[idx], np.array(closes)[idx])
    ax.bar(bars_x[idx], t - b, bottom=b, width=0.72, color=face, edgecolor=edge, lw=1.8, zorder=3.2)

# moving averages
draw_runs(ax, bars_x, fast_line, fast_runs, line_colors, lw=2.2, zorder=4, solid_capstyle="round")
draw_runs(ax, bars_x, slow_line, slow_runs, line_colors, lw=2.2, zorder=4, solid_capstyle="round")
draw_runs(ax, reg_x, reg_y, reg_runs, lw=2.3, ls=(0, (5, 1.5, 1.5, 1.5)), zorder=3.8)

# super trend dots
dot_cols = run_colors(dot_runs, len(dot_prices))
for code, col in (("r", "#e03434"), ("g", "#889900")):
    idx = [i for i, c in enumerate(dot_cols) if c == code]
    ax.scatter(bars_x[idx], np.array(dot_prices)[idx], s=50, color=col, lw=0, zorder=4.5)

# zigzag and labels
for k in range(len(swing_bars) - 1):
    col = "#dc3030" if swing_prices[k + 1] < swing_prices[k] else "#889900"
    ax.plot(swing_bars[k:k + 2], swing_prices[k:k + 2], color=col, lw=2.2, zorder=5, solid_capstyle="round")
for k in range(1, len(swing_bars)):
    col = "#ee0000" if swing_dot_colors[k] == "r" else "#007a00"
    ax.plot(swing_bars[k], swing_prices[k], "o", color=col, ms=5, mew=0, zorder=5.5)
    is_high = swing_prices[k] > swing_prices[k - 1]
    ax.annotate(swing_labels[k], (swing_bars[k], swing_prices[k]), xytext=(0, 20 if is_high else -9),
                textcoords="offset points", ha="center", va="center", fontsize=14.5,
                color=swing_label_colors[k], zorder=6, family=FONT)

# right price axis
ax.yaxis.tick_right()
ax.set_yticks(price_ticks)
ax.set_yticklabels(["%.2f" % p for p in price_ticks], fontsize=12, color=DARK)
ax.tick_params(axis="y", direction="out", length=4, width=1, color=GRID, pad=3)
ax.tick_params(axis="x", bottom=False, labelbottom=False)
for name, sp in ax.spines.items():
    sp.set_visible(name == "right")
    sp.set_color(GRID)
    sp.set_linewidth(1.2)
for sp in ax_vp.spines.values():
    sp.set_visible(False)
ax_vp.tick_params(left=False, right=False, labelleft=False, labelright=False)

# ATR panel
ax2 = fig.add_axes([0, 1 - LOW_BOTTOM / H, RIGHT / W, (LOW_BOTTOM - MAIN_BOTTOM) / H], facecolor=BG)
ax2.set_xlim(bar_of(0), bar_of(RIGHT))
ax2.set_ylim(atr_of(LOW_BOTTOM), atr_of(MAIN_BOTTOM))
ax2.axvspan(0.05, SESSION_END, color=SHADE, lw=0, zorder=0)
for level in (atr_of(1571.6), 60, 0, atr_of(1810)):
    ax2.axhline(level, color=GRID, lw=1.1, zorder=1)
ax2.axvline(1.9, color="#6a6ac0", lw=0.9, zorder=1.5)
ax2.axhline(atr_level, color="#000000", lw=3, zorder=2)
ax2.plot(atr_x, atr_y, color="#2a9d8f", lw=2.9, zorder=3)
ax2.yaxis.tick_right()
ax2.set_yticks([0, 20, 40, 60, 80])
ax2.tick_params(axis="y", direction="out", length=4, width=1, color=GRID, pad=3, labelsize=12, labelcolor=DARK)
ax2.set_xticks(tick_bars)
ax2.set_xticklabels(tick_labels, fontsize=13, color=DARK)
ax2.tick_params(axis="x", direction="out", length=3.6, width=1, color=GRID, pad=6)
for name, sp in ax2.spines.items():
    sp.set_visible(name in ("right", "bottom"))
    sp.set_color(GRID)
    sp.set_linewidth(1.2)

# overlay in window pixels, for tags and captions
ov = fig.add_axes([0, 0, 1, 1], facecolor="none")
ov.set_xlim(0, W)
ov.set_ylim(H, 0)
ov.axis("off")
ov.set_zorder(5)


def price_tag(yc, h, face, label, tc, edge=None):
    pts = [(2792, yc), (2800, yc - h / 2), (2879, yc - h / 2), (2879, yc + h / 2), (2800, yc + h / 2)]
    ov.add_patch(Polygon(pts, closed=True, facecolor=face, edgecolor=edge or face, lw=0.8))
    ov.text(2808, yc, label, fontsize=12, color=tc, va="center", ha="left")


price_tag(172.5, 22, "#c84b16", "7176.69", "#ffffff")
price_tag(196, 26, "#efe9d8", "7175.50", DARK, "#8a9aa5")
price_tag(306, 26, SLATE, "7169.50", "#ffffff")
price_tag(637.5, 26, "#c84b16", "7151.50", "#ffffff")
price_tag(1480, 26, SLATE, "7105.50", "#ffffff")
price_tag(1770, 26, "#2a9d8f", "10", DARK)

ov.add_patch(Rectangle((2655, 69.5), 12, 5, color="#0000ee", lw=0))
ov.add_patch(Rectangle((2655, 293), 12, 8, color="#ee0000", lw=0))
ov.add_patch(Rectangle((2862, 1814), 16, 12, facecolor="none", edgecolor=GRID, lw=1))

ov.text(5, 17, "Order Flow Volume Profile", fontsize=12.2, color=DARK, va="center")
ov.text(519, 49.5, "Thursday", fontsize=19, color=TXTBLUE, va="center", family="Liberation Serif")
ov.text(519, 77.5, "4/23/2026", fontsize=19, color=TXTBLUE, va="center", family="Liberation Serif")
ov.text(1399, 769, "Pacific Time", fontsize=18.5, color=TXTBLUE, ha="center", va="center")
ov.text(1398, 790, "ES 06-26", fontsize=29.5, color=TXTBLUE, ha="center", va="center")
ov.text(1384, 806, "2000 Tick", fontsize=18, color=TXTBLUE, ha="center", va="center")
ov.text(2786, 23, "EMA 21n & 8n, ama Super Trend 50 bar regression dots", fontsize=12.4, color=TXTBLUE,
        ha="right", va="center")
ov.text(2681, 308, "Pre-High", fontsize=15, color=SLATE, va="center", family="Liberation Sans")
ov.text(2681, 638, "R-Open", fontsize=15, color="#cc4a14", va="center", family="Liberation Sans")
ov.text(2681, 1482, "Pre-Low", fontsize=15, color=SLATE, va="center", family="Liberation Sans")
ov.text(2681, 183, "1893  11", fontsize=12.5, color="#111111", va="center")
ov.text(2785, 1549, "ticks: 1893    ATR: 10", fontsize=12.5, color=DARK, ha="right", va="center")
ov.text(5, 1589, "21 n ATR in Ticks(ES 06-26 (2000 Tick),Wilder,21,false), CONTROLLING BAR COLOR "
        "amaEfficiencyRatio(ES 06-26 (2000 Tick),Balanced,0.85,21,21)", fontsize=12.2, color=DARK, va="center")
ov.text(5, 1809, "\u00a9 2026 NinjaTrader, LLC", fontsize=12, color=DARK, va="center")
clipped = ax2.text(5, 1832, "RIGHT SIDE | Time Bar Tick | Bar Mom | INTO(ES 06-26 (2000 Tick))", fontsize=12,
                   color=DARK, va="center", transform=ov.transData, clip_on=True)
ov.text(4, 1877, "ES 06-26 ES 06-26 2000 Tick", fontsize=6.5, color="#7f8a92", va="center")
ov.text(2879, 1876, "NIN|ATRADER", fontsize=12, color="#e8462a", ha="right", va="center", fontweight="bold")
ov.text(2627, 445, "7161.50", fontsize=7.5, color="#a88a4a", va="center")
ov.text(2627, 298, "7169.50", fontsize=7.5, color="#6a8ee0", va="center")
ov.text(2627, 850, "7139.50", fontsize=7.5, color="#6a8ee0", va="center")
ov.text(0, 744, "7145.25", fontsize=7.5, color="#5a86e0", va="center")
ov.text(0, 523, "7157.25", fontsize=7.5, color=GOLD, va="center")
ov.text(0, 413, "7161.25", fontsize=7.5, color="#5a86e0", va="center")
ov.text(49, 1490, "\u03a3: 664K / 76290", fontsize=7.5, color="#2a7a3a", va="center")

fig.savefig("out.png", dpi=100, facecolor=BG)
